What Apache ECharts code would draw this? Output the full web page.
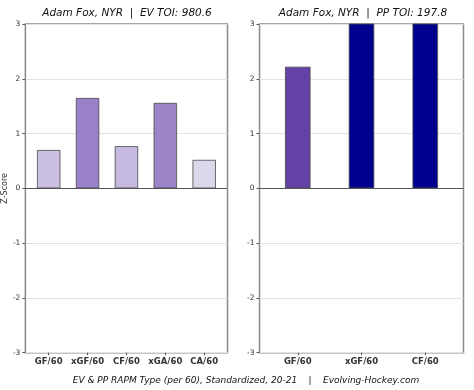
<!DOCTYPE html>
<html>
<head>
<meta charset="utf-8">
<script src="https://cdn.jsdelivr.net/npm/echarts@6/dist/echarts.min.js"></script>
<style>html,body{margin:0;padding:0;background:#fff}#c{width:474px;height:390px}</style>
</head>
<body>
<div id="c"></div>
<script>
// ---- data ----
const evCategories = ['GF/60', 'xGF/60', 'CF/60', 'xGA/60', 'CA/60'];
const evValues = [0.70, 1.65, 0.77, 1.56, 0.52];
const ppCategories = ['GF/60', 'xGF/60', 'CF/60'];
const ppValues = [2.22, 3.5, 3.5];
const yTicks = [-3, -2, -1, 0, 1, 2, 3];
const evTitle = 'Adam Fox, NYR  |  EV TOI: 980.6';
const ppTitle = 'Adam Fox, NYR  |  PP TOI: 197.8';
const footer = 'EV & PP RAPM Type (per 60), Standardized, 20-21    |    Evolving-Hockey.com';
// ---- styles ----
const evColors = ['#cbbfe2', '#9a80c8', '#c6b9df', '#9c84c9', '#dcd7ea'];
const ppColors = ['#6441a6', '#00008f', '#00008f'];

const font = 'DejaVu Sans';
const chart = echarts.init(document.getElementById('c'), null, {renderer: 'canvas'});

function xAxisFor(cats, gridIndex) {
  const idx = cats.map((_, i) => i);
  return {
    type: 'value', gridIndex, min: -0.6, max: cats.length - 0.4, position: 'bottom',
    axisLine: {show: false, onZero: false},
    splitLine: {show: false},
    axisTick: {show: true, customValues: idx, length: 2.5, lineStyle: {color: '#555', width: 1}},
    axisLabel: {customValues: idx, formatter: v => cats[Math.round(v)], color: '#333',
      fontFamily: font, fontSize: 8.5, fontWeight: 'bold', margin: 5}
  };
}
function yAxisFor(gridIndex, withName) {
  const a = {
    type: 'value', gridIndex, min: -3, max: 3, interval: 1, position: 'left',
    axisLine: {show: false, onZero: false},
    axisTick: {show: true, length: 3, lineStyle: {color: '#555', width: 1}},
    axisLabel: {color: '#333', fontFamily: font, fontSize: 7.5, margin: 5,
      formatter: v => yTicks.includes(v) ? String(v) : ''},
    splitLine: {show: true, lineStyle: {color: '#e3e3e3', width: 1}}
  };
  if (withName) {
    a.name = 'Z-Score'; a.nameLocation = 'middle'; a.nameGap = 12; a.nameRotate = 90;
    a.nameTextStyle = {fontFamily: font, fontSize: 8, color: '#333'};
  }
  return a;
}
function barSeries(vals, colors, idx, width) {
  return {
    type: 'bar', xAxisIndex: idx, yAxisIndex: idx, barWidth: width, clip: true,
    data: vals.map((v, i) => ({value: [i, v], itemStyle: {color: colors[i]}})),
    itemStyle: {borderColor: '#4a4a4a', borderWidth: 0.8},
    markLine: {silent: true, symbol: 'none', label: {show: false},
      lineStyle: {color: '#555', width: 1, type: 'solid'}, data: [{yAxis: 0}]},
    animation: false
  };
}

const titleStyle = {fontFamily: font, fontSize: 10.5, fontStyle: 'italic', fontWeight: 'normal', color: '#111'};
chart.setOption({
  animation: false,
  title: [
    {text: evTitle, left: 127, top: 8, padding: 0, textAlign: 'center', textStyle: titleStyle},
    {text: ppTitle, left: 363, top: 8, padding: 0, textAlign: 'center', textStyle: titleStyle},
    {text: footer, left: 246, top: 376, padding: 0, textAlign: 'center',
      textStyle: Object.assign({}, titleStyle, {fontSize: 9})}
  ],
  grid: [
    {left: 24.5, right: 246.5, top: 24, bottom: 37.3, show: true, borderColor: '#8a8a8a', borderWidth: 1.5, backgroundColor: 'transparent'},
    {left: 259.5, right: 10.5, top: 24, bottom: 37.3, show: true, borderColor: '#8a8a8a', borderWidth: 1.5, backgroundColor: 'transparent'}
  ],
  xAxis: [xAxisFor(evCategories, 0), xAxisFor(ppCategories, 1)],
  yAxis: [yAxisFor(0, true), yAxisFor(1, false)],
  series: [barSeries(evValues, evColors, 0, 23.4), barSeries(ppValues, ppColors, 1, 25.5)]
});
</script>
</body>
</html>
